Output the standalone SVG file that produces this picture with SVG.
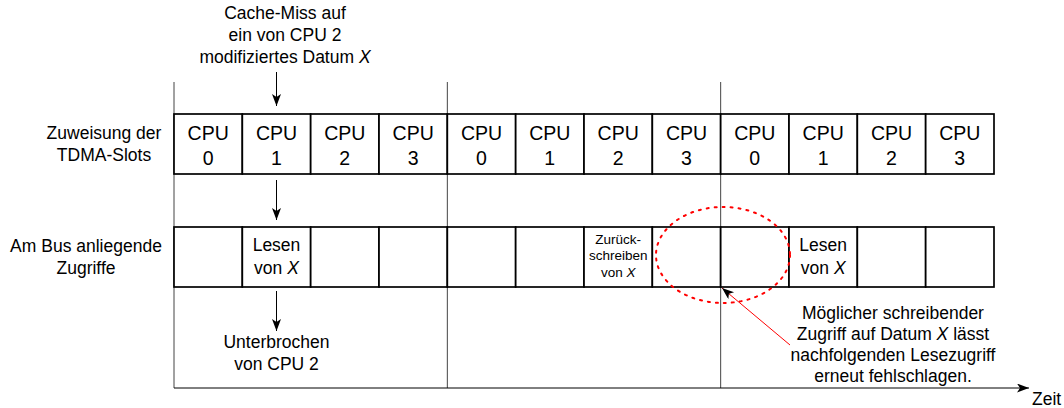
<svg xmlns="http://www.w3.org/2000/svg" width="1064" height="408" viewBox="0 0 1064 408">
<style>
text{font-family:"Liberation Sans",Arial,sans-serif;fill:#000;text-anchor:middle}
.lbl{font-size:17.5px}
.cpu{font-size:19.5px}
.sm{font-size:13.5px}
.slot{fill:#fff;stroke:#000;stroke-width:1.7}
.tl{stroke:#444;stroke-width:1;fill:none}
.arr{stroke:#000;stroke-width:1;fill:none;marker-end:url(#ah)}
</style>
<defs>
<marker id="ah" markerUnits="userSpaceOnUse" markerWidth="14" markerHeight="10" refX="12" refY="4.5" orient="auto">
<path d="M0,0 L12,4.5 L0,9 L3,4.5 z" fill="#000"/>
</marker>
</defs>
<rect width="1064" height="408" fill="#fff"/>
<g id="timelines">
<line class="tl" x1="174" y1="82" x2="174" y2="388"/>
<line class="tl" x1="447.33" y1="82" x2="447.33" y2="388"/>
<line class="tl" x1="720.67" y1="82" x2="720.67" y2="388"/>
</g>
<g id="axis">
<line x1="174" y1="388" x2="1029" y2="388" stroke="#000" stroke-width="1" marker-end="url(#ah)"/>
<text class="lbl" x="1032" y="405" style="text-anchor:start">Zeit</text>
</g>
<g id="label-top">
<text class="lbl" x="285" y="19">Cache-Miss auf</text>
<text class="lbl" x="285" y="41">ein von CPU 2</text>
<text class="lbl" x="285" y="63">modifiziertes Datum <tspan font-style="italic">X</tspan></text>
</g>
<g id="label-tdma">
<text class="lbl" x="104" y="139">Zuweisung der</text>
<text class="lbl" x="104" y="161">TDMA-Slots</text>
</g>
<g id="label-bus">
<text class="lbl" x="86" y="252">Am Bus anliegende</text>
<text class="lbl" x="86" y="274">Zugriffe</text>
</g>
<g id="tdma-slots">
<g id="t0"><rect class="slot" x="174" y="114" width="68.33" height="60"/><text class="cpu" x="208.2" y="140">CPU</text><text class="cpu" x="208.2" y="165">0</text></g>
<g id="t1"><rect class="slot" x="242.33" y="114" width="68.33" height="60"/><text class="cpu" x="276.5" y="140">CPU</text><text class="cpu" x="276.5" y="165">1</text></g>
<g id="t2"><rect class="slot" x="310.67" y="114" width="68.33" height="60"/><text class="cpu" x="344.8" y="140">CPU</text><text class="cpu" x="344.8" y="165">2</text></g>
<g id="t3"><rect class="slot" x="379" y="114" width="68.33" height="60"/><text class="cpu" x="413.2" y="140">CPU</text><text class="cpu" x="413.2" y="165">3</text></g>
<g id="t4"><rect class="slot" x="447.33" y="114" width="68.33" height="60"/><text class="cpu" x="481.5" y="140">CPU</text><text class="cpu" x="481.5" y="165">0</text></g>
<g id="t5"><rect class="slot" x="515.67" y="114" width="68.33" height="60"/><text class="cpu" x="549.8" y="140">CPU</text><text class="cpu" x="549.8" y="165">1</text></g>
<g id="t6"><rect class="slot" x="584" y="114" width="68.33" height="60"/><text class="cpu" x="618.2" y="140">CPU</text><text class="cpu" x="618.2" y="165">2</text></g>
<g id="t7"><rect class="slot" x="652.33" y="114" width="68.33" height="60"/><text class="cpu" x="686.5" y="140">CPU</text><text class="cpu" x="686.5" y="165">3</text></g>
<g id="t8"><rect class="slot" x="720.67" y="114" width="68.33" height="60"/><text class="cpu" x="754.8" y="140">CPU</text><text class="cpu" x="754.8" y="165">0</text></g>
<g id="t9"><rect class="slot" x="789" y="114" width="68.33" height="60"/><text class="cpu" x="823.2" y="140">CPU</text><text class="cpu" x="823.2" y="165">1</text></g>
<g id="t10"><rect class="slot" x="857.33" y="114" width="68.33" height="60"/><text class="cpu" x="891.5" y="140">CPU</text><text class="cpu" x="891.5" y="165">2</text></g>
<g id="t11"><rect class="slot" x="925.67" y="114" width="68.33" height="60"/><text class="cpu" x="959.8" y="140">CPU</text><text class="cpu" x="959.8" y="165">3</text></g>
</g>
<g id="bus-slots">
<g id="b0"><rect class="slot" x="174" y="227" width="68.33" height="60"/></g>
<g id="b1"><rect class="slot" x="242.33" y="227" width="68.33" height="60"/><text class="lbl" x="276.5" y="251">Lesen</text><text class="lbl" x="276.5" y="274">von <tspan font-style="italic">X</tspan></text></g>
<g id="b2"><rect class="slot" x="310.67" y="227" width="68.33" height="60"/></g>
<g id="b3"><rect class="slot" x="379" y="227" width="68.33" height="60"/></g>
<g id="b4"><rect class="slot" x="447.33" y="227" width="68.33" height="60"/></g>
<g id="b5"><rect class="slot" x="515.67" y="227" width="68.33" height="60"/></g>
<g id="b6"><rect class="slot" x="584" y="227" width="68.33" height="60"/><text class="sm" x="618.2" y="243.5">Zurück-</text><text class="sm" x="618.2" y="260">schreiben</text><text class="sm" x="618.2" y="276.5">von <tspan font-style="italic">X</tspan></text></g>
<g id="b7"><rect class="slot" x="652.33" y="227" width="68.33" height="60"/></g>
<g id="b8"><rect class="slot" x="720.67" y="227" width="68.33" height="60"/></g>
<g id="b9"><rect class="slot" x="789" y="227" width="68.33" height="60"/><text class="lbl" x="823.2" y="251">Lesen</text><text class="lbl" x="823.2" y="274">von <tspan font-style="italic">X</tspan></text></g>
<g id="b10"><rect class="slot" x="857.33" y="227" width="68.33" height="60"/></g>
<g id="b11"><rect class="slot" x="925.67" y="227" width="68.33" height="60"/></g>
</g>
<g id="label-unterbrochen">
<text class="lbl" x="276.5" y="348">Unterbrochen</text>
<text class="lbl" x="276.5" y="370">von CPU 2</text>
</g>
<g id="highlight">
<ellipse cx="723" cy="255" rx="67" ry="48" fill="none" stroke="#f00" stroke-width="2" stroke-dasharray="2 6" stroke-linecap="round"/>
</g>
<g id="label-annotation">
<text class="lbl" x="893" y="319">Möglicher schreibender</text>
<text class="lbl" x="893" y="340">Zugriff auf Datum <tspan font-style="italic">X</tspan> lässt</text>
<text class="lbl" x="893" y="361">nachfolgenden Lesezugriff</text>
<text class="lbl" x="893" y="382">erneut fehlschlagen.</text>
</g>
<g id="connectors">
<line class="arr" x1="276.5" y1="72" x2="276.5" y2="106"/>
<line class="arr" x1="276.5" y1="180" x2="276.5" y2="220"/>
<line class="arr" x1="276.5" y1="291" x2="276.5" y2="331"/>
<line x1="790" y1="345" x2="722" y2="288" stroke="#f00" stroke-width="1" marker-end="url(#ah)"/>
</g>
</svg>
